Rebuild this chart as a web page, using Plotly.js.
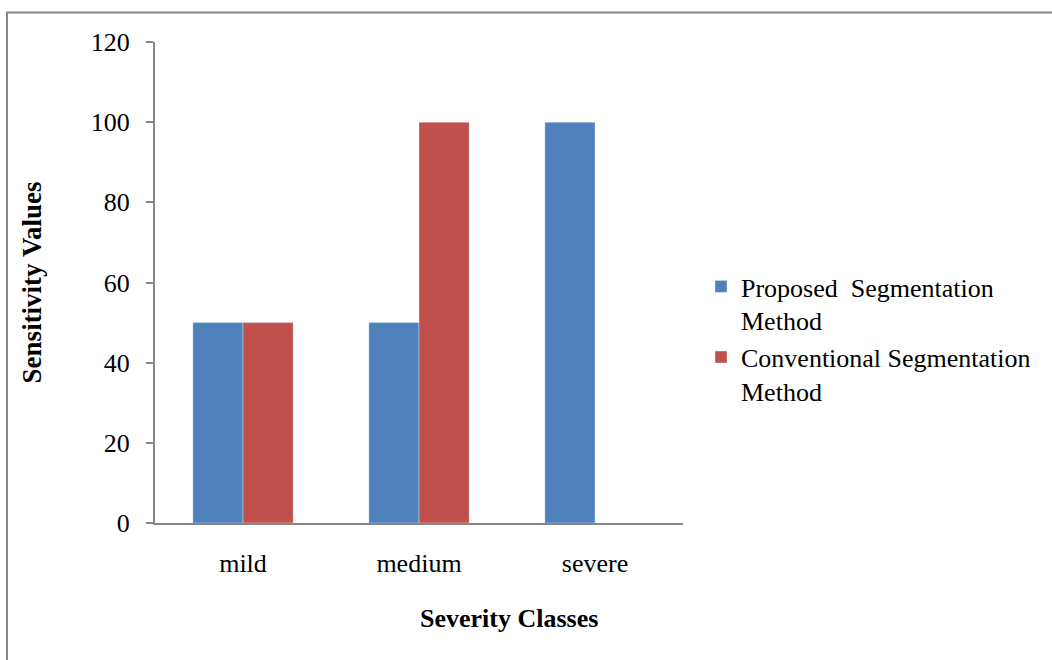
<!DOCTYPE html>
<html>
<head>
<meta charset="utf-8">
<script src="https://cdn.plot.ly/plotly-3.0.1.min.js"></script>
<style>html,body{margin:0;padding:0;background:#fff;}#chart{width:1052px;height:660px;}</style>
</head>
<body>
<div id="chart"></div>
<script>
const categories = ["mild", "medium", "severe"];
const proposedValues = [50, 50, 100];
const conventionalValues = [50, 100, 0];
const seriesNames = ["Proposed  Segmentation<br>Method", "Conventional Segmentation<br>Method"];
const yTicks = [0, 20, 40, 60, 80, 100, 120];
const xTitle = "<b>Severity Classes</b>";
const yTitle = "<b>Sensitivity Values</b>";

const L = 155, R = 683, T = 42, B = 523;
const px = x => (x - L) / (R - L);
const py = y => (B - y) / (B - T);

const font = {family: "Liberation Serif, Times New Roman, serif", size: 26, color: "#000"};
const barLine = {color: "rgba(255,255,255,0.35)", width: 1};

const data = [
  {type: "bar", x: categories, y: proposedValues, name: seriesNames[0],
   marker: {color: "#4F81BD", line: barLine}},
  {type: "bar", x: categories, y: conventionalValues, name: seriesNames[1],
   marker: {color: "#C0504D", line: barLine}}
];

const layout = {
  width: 1052, height: 660,
  margin: {l: L, r: 1052 - R, t: T, b: 660 - B, pad: 0},
  paper_bgcolor: "#fff", plot_bgcolor: "#fff",
  font: font,
  barmode: "group", bargap: 0.43, bargroupgap: 0,
  showlegend: true,
  legend: {x: px(701), xanchor: "left", y: py(263), yanchor: "top", valign: "top",
           font: font, bgcolor: "rgba(0,0,0,0)", itemwidth: 30},
  xaxis: {
    showline: true, linecolor: "#868686", linewidth: 2, ticks: "", showgrid: false, zeroline: false,
    tickfont: font, ticklabelstandoff: 16
  },
  yaxis: {
    range: [0, 120], tickvals: yTicks, ticktext: yTicks.map(String),
    showline: true, linecolor: "#868686", linewidth: 2, ticks: "outside", ticklen: 7, tickwidth: 2,
    tickcolor: "#868686", showgrid: false, zeroline: false, tickfont: font, ticklabelstandoff: 11,
    title: {text: yTitle, font: Object.assign({}, font, {size: 27}), standoff: 41}
  },
  annotations: [
    {text: xTitle, xref: "paper", yref: "paper", x: px(509), y: py(618), xanchor: "center", yanchor: "middle",
     showarrow: false, font: font}
  ],
  shapes: [
    {type: "line", xref: "paper", yref: "paper", x0: px(6), x1: px(1052), y0: py(12.5), y1: py(12.5),
     line: {color: "#868686", width: 2}},
    {type: "line", xref: "paper", yref: "paper", x0: px(7), x1: px(7), y0: py(12), y1: py(660),
     line: {color: "#868686", width: 2}}
  ]
};

Plotly.newPlot("chart", data, layout, {displayModeBar: false, responsive: false});
</script>
</body>
</html>
